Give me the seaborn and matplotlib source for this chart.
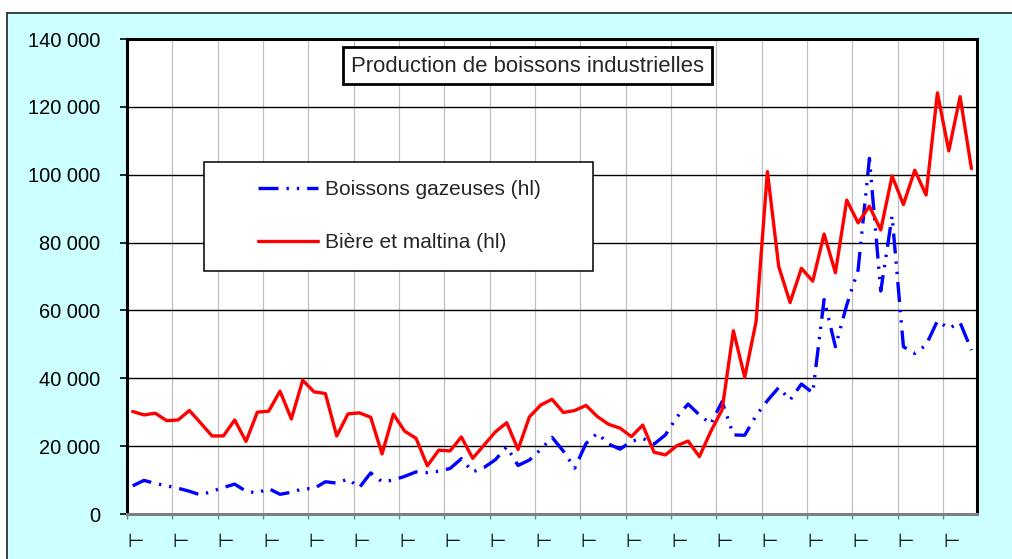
import matplotlib
matplotlib.use('Agg')
import matplotlib.pyplot as plt
import matplotlib.patches as mpatches
import matplotlib.lines as mlines
import numpy as np
import pandas as pd
import seaborn as sns

# ─── Data (hl, one value per period) ─────────────────────────────────────────
gazeuses = [
    8300, 9900, 9000, 8300, 7600, 6700, 5600, 6700, 7800, 8800,
    6700, 6200, 7500, 5800, 6400, 7400, 7500, 9500, 9100, 10300,
    7800, 12100, 9500, 10000, 11100, 12400, 12200, 12600, 13400, 16300,
    12400, 13700, 16000, 19800, 14300, 15900, 19000, 22600, 18500, 13500,
    20800, 23800, 20600, 19100, 21400, 22300, 20600, 23300, 28500, 32400,
    29200, 26500, 33100, 23300, 23200, 29000, 33400, 37300, 33600, 38300,
    35700, 63200, 49300, 61600, 71900, 104800, 65700, 87800, 49300, 47300,
    49800, 56900, 54700, 56400, 48300,
]
biere = [
    30200, 29200, 29700, 27500, 27700, 30500, 26800, 23000, 23000, 27700,
    21400, 30000, 30300, 36200, 28000, 39400, 36000, 35500, 23000, 29500,
    29800, 28500, 17700, 29400, 24400, 22300, 14200, 18800, 18600, 22700,
    16400, 20300, 24200, 26900, 19000, 28600, 32100, 33800, 29900, 30500,
    32000, 28700, 26400, 25300, 22800, 26200, 18200, 17400, 20100, 21500,
    16900, 24300, 30700, 54000, 40300, 56700, 100900, 72900, 62300, 72400,
    68600, 82500, 71100, 92500, 85800, 90700, 83700, 99600, 91200, 101300,
    94000, 124100, 107000, 123000, 101800,
]
series_names = ["Boissons gazeuses (hl)", "Bière et maltina (hl)"]
y_ticks = [0, 20000, 40000, 60000, 80000, 100000, 120000, 140000]
x_tick_labels = ["⊢"] * 19
title = "Production de boissons industrielles"

# ─── Figure geometry (pixels of a 1012x559 image) ────────────────────────────
W, H = 1012, 559
def fx(px): return px / W
def fy(py): return 1 - py / H

sns.set_style("white")
plt.rcParams['font.family'] = ['Liberation Sans', 'DejaVu Sans']
FS_TICK = 14.4
FS_LEG = 15.0
FS_TITLE = 15.9

df = pd.DataFrame({
    'periode': list(range(len(gazeuses))) * 2,
    'valeur': gazeuses + biere,
    'serie': [series_names[0]] * len(gazeuses) + [series_names[1]] * len(biere),
})

fig = plt.figure(figsize=(W / 100 + 0.001, H / 100 + 0.001), dpi=100)
fig.patch.set_facecolor('white')

# cyan chart background, border only on the left and top
bg = mpatches.Rectangle((fx(7), -1), 2, fy(13) + 1, transform=fig.transFigure,
                        facecolor='#CCFFFF', edgecolor='none', zorder=-5)
fig.patches.append(bg)
fig.lines.append(mlines.Line2D([fx(7), fx(7)], [0, fy(13)], transform=fig.transFigure,
                               color='#202020', lw=1.2, zorder=-4))
fig.lines.append(mlines.Line2D([fx(7), 1.0], [fy(13), fy(13)], transform=fig.transFigure,
                               color='#202020', lw=1.2, zorder=-4))

ax = fig.add_axes([fx(127), fy(514), fx(977) - fx(127), fy(39) - fy(514)])
ax.set_facecolor('white')

sns.lineplot(data=df, x='periode', y='valeur', hue='serie', style='serie',
             hue_order=series_names, style_order=series_names,
             palette={series_names[0]: '#0000FF', series_names[1]: '#FF0000'},
             dashes={series_names[0]: (6.0, 2.4, 0.7, 2.4, 0.7, 2.4),
                     series_names[1]: ""},
             linewidth=2.4, legend=False, ax=ax, zorder=3)

# ─── Axes styling ────────────────────────────────────────────────────────────
n = len(biere)
ax.set_xlim(-0.5, n - 0.5)
ax.set_ylim(0, 140000)
ax.set_xlabel('')
ax.set_ylabel('')

x_pos = np.arange(len(x_tick_labels)) * 4 - 0.5
ax.set_xticks(x_pos)
ax.set_xticklabels(x_tick_labels, ha='left', fontsize=13.5, family='DejaVu Sans')
ax.set_yticks(y_ticks)
ax.set_yticklabels([f"{v:,}".replace(',', ' ') for v in y_ticks], fontsize=FS_TICK)

ax.grid(axis='y', color='black', lw=1.0, zorder=1)
ax.grid(axis='x', color='#C0C0C0', lw=0.9, zorder=1)
ax.set_axisbelow(True)

for side in ['left', 'top', 'right']:
    ax.spines[side].set_color('black')
    ax.spines[side].set_linewidth(2.2)
ax.spines['bottom'].set_color('#808080')
ax.spines['bottom'].set_linewidth(2.2)

ax.tick_params(axis='y', direction='out', length=5, width=1.2, color='black',
               pad=14, labelcolor='black', left=True)
ax.tick_params(axis='x', direction='out', length=3.6, width=1.0, color='#808080',
               pad=9, labelcolor='black', bottom=True)

# ─── Title box ───────────────────────────────────────────────────────────────
fig.text(fx(527.5), fy(66), title, fontsize=FS_TITLE, ha='center', va='center',
         bbox=dict(boxstyle='square,pad=0.36', facecolor='white',
                   edgecolor='black', lw=2.0), zorder=6)

# ─── Legend ──────────────────────────────────────────────────────────────────
box = mpatches.Rectangle((fx(204), fy(271)), fx(593) - fx(204), fy(162) - fy(271),
                         transform=fig.transFigure, facecolor='white',
                         edgecolor='black', lw=1.1, zorder=4)
fig.patches.append(box)
handles = ax.get_lines()[:2]
fig.legend(handles, series_names, loc='center left',
           bbox_to_anchor=(fx(258), fy(216)), bbox_transform=fig.transFigure,
           frameon=False, fontsize=FS_LEG, handlelength=2.88, handletextpad=0.34,
           labelspacing=1.62, borderpad=0, borderaxespad=0)

fig.savefig('out.png', dpi=100)
